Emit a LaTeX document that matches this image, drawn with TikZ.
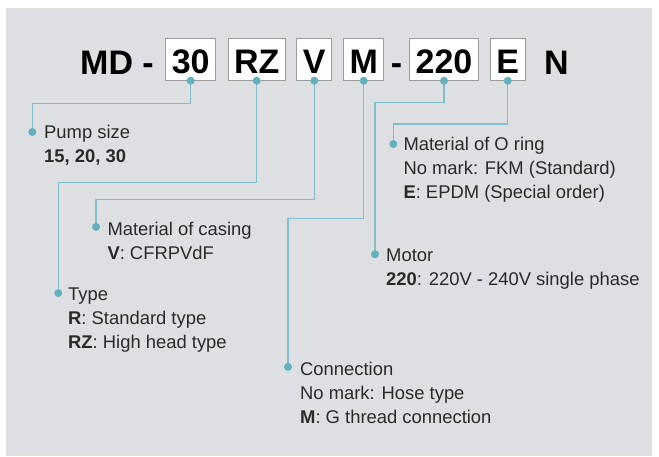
\documentclass[tikz,border=0pt]{standalone}
\usepackage{fontspec}
\setmainfont{Liberation Sans}
\definecolor{panel}{HTML}{DEDFE3}
\definecolor{wire}{HTML}{7FBFC9}
\definecolor{knob}{HTML}{62B1BC}
\definecolor{frame}{HTML}{9C9C9C}
\definecolor{ink}{HTML}{2A2A2A}
\tikzset{
  codebox/.style={draw=frame,fill=white,line width=1pt,anchor=south,
    font=\fontsize{34}{40}\selectfont\bfseries,inner xsep=6pt,inner ysep=0pt,
    text height=34.7pt,text depth=6.7pt},
  codetext/.style={anchor=base west,inner sep=0pt,font=\fontsize{34}{40}\selectfont\bfseries},
  conn/.style={draw=wire,line width=1.2pt},
  lbl/.style={anchor=base west,align=left,inner sep=0pt,text=ink,
    font=\fontsize{18.4}{24}\selectfont},
}
\begin{document}
\begin{tikzpicture}[x=1pt,y=-1pt]
\useasboundingbox (0,0) rectangle (659,456);
\fill[panel] (6,8) rectangle (652,456);
% model code
\node[codetext] (md) at (80,74) {MD -};
\node[codebox] (b30) at (190.7,80.7) {30};
\node[codebox] (bRZ) at (256.7,80.7) {RZ};
\node[codebox] (bV) at (314.3,80.7) {V};
\node[codebox] (bM) at (363.7,80.7) {M};
\node[codetext,anchor=base] (dash) at (396.5,74) {-};
\node[codebox] (b220) at (444,80.7) {220};
\node[codebox] (bE) at (507.7,80.7) {E};
\node[codetext] (n) at (544,74) {N};
% label points
\coordinate (dPump) at (32.3,132);
\coordinate (dCasing) at (96,227);
\coordinate (dType) at (58.3,293);
\coordinate (dConn) at (288,367);
\coordinate (dMotor) at (375,254.3);
\coordinate (dORing) at (393.3,144);
% labels (placed at the baseline of the last line)
\node[lbl] (tPump) at (44,162.7) {Pump size\\\textbf{15, 20, 30}};
\node[lbl] (tCasing) at (107.3,259) {Material of casing\\\textbf{V}: CFRPVdF};
\node[lbl] (tType) at (68,348.7) {Type\\\textbf{R}: Standard type\\\textbf{RZ}: High head type};
\node[lbl] (tConn) at (300,423) {Connection\\No mark: Hose type\\\textbf{M}: G thread connection};
\node[lbl] (tMotor) at (386,285.7) {Motor\\\textbf{220}: 220V - 240V single phase};
\node[lbl] (tORing) at (403.3,198) {Material of O ring\\No mark: FKM (Standard)\\\textbf{E}: EPDM (Special order)};
% connectors
\draw[conn] (b30.south) -- ++(0,22.6) -| (dPump);
\draw[conn] (bRZ.south) -- ++(0,101.6) -| (dType);
\draw[conn] (bV.south) -- ++(0,118.6) -| (dCasing);
\draw[conn] (bM.south) -- ++(0,137.6) -| (dConn);
\draw[conn] (b220.south) -- ++(0,21.6) -| (dMotor);
\draw[conn] (bE.south) -- ++(0,43.3) -| (dORing);
\foreach \p in {b30.south,bRZ.south,bV.south,bM.south,b220.south,bE.south,dPump,dCasing,dType,dConn,dMotor,dORing}
  \fill[knob] (\p) circle(4pt);
\end{tikzpicture}
\end{document}
